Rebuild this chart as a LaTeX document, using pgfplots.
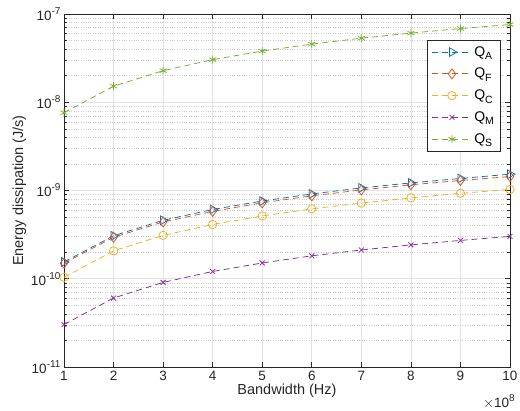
\documentclass[border=0pt]{standalone}
\usepackage{pgfplots}
\pgfplotsset{compat=1.18}
\usepackage{fontspec}
\setmainfont{Liberation Sans}
\usetikzlibrary{plotmarks}
\definecolor{mA}{rgb}{0,0.447,0.741}
\definecolor{mF}{rgb}{0.85,0.325,0.098}
\definecolor{mC}{rgb}{0.929,0.694,0.125}
\definecolor{mM}{rgb}{0.494,0.184,0.556}
\definecolor{mS}{rgb}{0.466,0.674,0.188}
\definecolor{axc}{rgb}{0.15,0.15,0.15}
\newcommand{\ex}[1]{10\raisebox{0.85ex}{\fontsize{10}{10}\selectfont #1}}
\newcommand{\qs}[1]{Q\raisebox{-0.45ex}{\fontsize{10.5}{10}\selectfont #1}}
\begin{document}
\begin{tikzpicture}
\begin{axis}[
  scale only axis, width=446pt, height=353pt,
  ymode=log, xmin=1, xmax=10, ymin=1e-11, ymax=1e-7,
  xtick={1,2,3,4,5,6,7,8,9,10},
  xticklabels={1,2,3,4,5,6,7,8,9,10},
  ytick={1e-11,1e-10,1e-9,1e-8,1e-7},
  yticklabels={\ex{-11},\ex{-10},\ex{-9},\ex{-8},\ex{-7}},
  tick align=inside, tick pos=both,
  major tick length=5pt, minor tick length=3pt,
  axis line style={axc, line width=0.6pt},
  tick style={axc, line width=0.6pt},
  grid=both,
  major grid style={gray!22, line width=0.6pt},
  minor grid style={gray!40, dotted, line width=0.6pt},
  minor x tick num=0,
  ticklabel style={font=\fontsize{13.5}{15}\selectfont, text=axc},
  xticklabel style={yshift=-1pt},
  xlabel={Bandwidth (Hz)}, ylabel={Energy dissipation (J/s)},
  label style={font=\fontsize{14.5}{16}\selectfont, text=axc},
  xlabel style={yshift=4pt},
  ylabel style={yshift=-2pt},
  every axis plot/.append style={line width=0.75pt, dashed, dash pattern=on 6pt off 4pt},
  legend image code/.code={\draw[mark repeat=2,mark phase=2] plot coordinates {(0cm,0cm)(0.7cm,0cm)(1.4cm,0cm)};},
  legend style={at={(0.978,0.926)}, anchor=north east, draw=axc, line width=0.6pt,
    font=\fontsize{14}{16}\selectfont, row sep=6.5pt, inner sep=4pt, cells={anchor=west}},
]
\addplot[color=mA, mark=triangle, mark size=5pt, mark options={solid, rotate=-90}] coordinates {
(1,1.55e-10)(2,3.07e-10)(3,4.6e-10)(4,6.1e-10)(5,7.6e-10)(6,9.15e-10)(7,1.07e-9)(8,1.22e-9)(9,1.37e-9)(10,1.53e-9)};
\addlegendentry{\qs{A}}
\addplot[color=mF, mark=diamond, mark size=5pt, mark options={solid}] coordinates {
(1,1.5e-10)(2,2.95e-10)(3,4.4e-10)(4,5.8e-10)(5,7.25e-10)(6,8.7e-10)(7,1.015e-9)(8,1.16e-9)(9,1.3e-9)(10,1.44e-9)};
\addlegendentry{\qs{F}}
\addplot[color=mC, mark=o, mark size=4.2pt, mark options={solid}] coordinates {
(1,1.04e-10)(2,2.07e-10)(3,3.1e-10)(4,4.12e-10)(5,5.15e-10)(6,6.2e-10)(7,7.2e-10)(8,8.25e-10)(9,9.3e-10)(10,1.03e-9)};
\addlegendentry{\qs{C}}
\addplot[color=mM, mark=x, mark size=3.5pt, mark options={solid}] coordinates {
(1,3.03e-11)(2,6.05e-11)(3,9.1e-11)(4,1.21e-10)(5,1.51e-10)(6,1.82e-10)(7,2.12e-10)(8,2.42e-10)(9,2.72e-10)(10,3.02e-10)};
\addlegendentry{\qs{M}}
\addplot[color=mS, mark=asterisk, mark size=4pt, mark options={solid}] coordinates {
(1,7.6e-9)(2,1.52e-8)(3,2.28e-8)(4,3.04e-8)(5,3.8e-8)(6,4.56e-8)(7,5.32e-8)(8,6.08e-8)(9,6.84e-8)(10,7.6e-8)};
\addlegendentry{\qs{S}}
\end{axis}
\node[anchor=north east, text=axc, font=\fontsize{13.5}{15}\selectfont, inner sep=0pt] at ([xshift=5pt,yshift=-27pt]current axis.south east) {$\times$\ex{8}};
\pgfresetboundingbox
\path[use as bounding box] ([xshift=-64pt,yshift=-43pt]current axis.south west) rectangle ([xshift=10pt,yshift=14pt]current axis.north east);
\end{tikzpicture}
\end{document}
